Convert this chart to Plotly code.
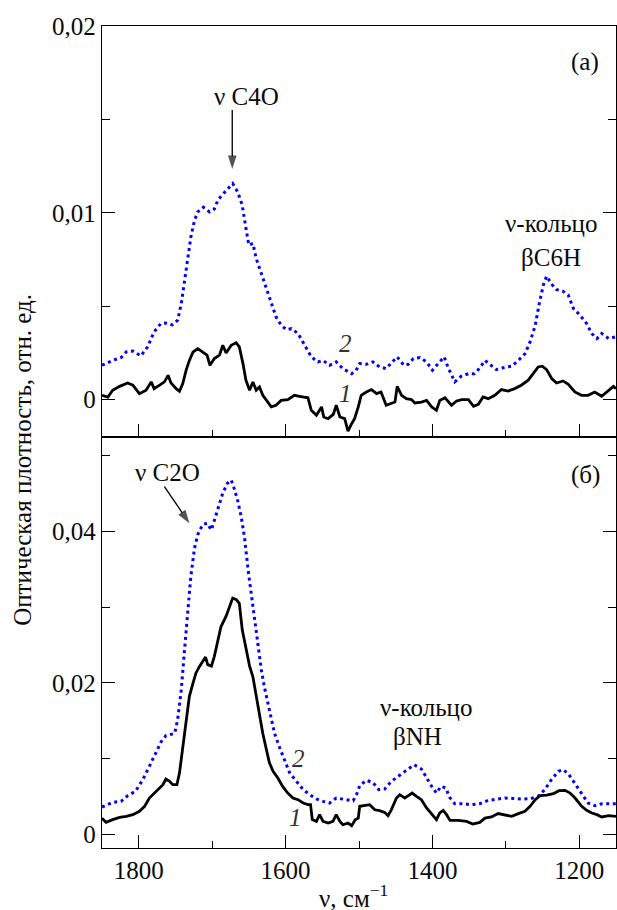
import numpy as np
import plotly.graph_objects as go
from plotly.subplots import make_subplots

# ---------------- data (optical density in units of 1e-3) ----------------
# Panel (a), curve 2 (blue dotted)
a2_nu = [1850, 1835.5, 1824, 1817, 1808, 1797, 1788, 1779, 1770, 1763, 1754.5, 1747, 1742, 1738,
         1733, 1729, 1724, 1719.5, 1712, 1703.6, 1697, 1692, 1683, 1676, 1672, 1665, 1659, 1654.5,
         1650, 1644.5, 1640, 1633, 1626, 1619.5, 1613, 1606, 1599, 1592, 1583, 1574, 1565, 1556,
         1549, 1540, 1531, 1522, 1510, 1504, 1499, 1490, 1481, 1472, 1463, 1456, 1448, 1439, 1433,
         1426, 1417, 1408, 1400, 1392, 1384, 1379, 1373, 1369.5, 1361, 1351, 1343, 1335, 1328.5,
         1322, 1313, 1303.5, 1292, 1283, 1274, 1267, 1260, 1254.5, 1249, 1244.5, 1237.6, 1231,
         1222, 1215, 1208, 1199, 1190, 1183, 1176, 1169.5, 1160, 1151]
a2_od = [1.84, 2.1, 2.25, 2.55, 2.6, 2.34, 2.82, 3.63, 4.07, 4.1, 4.0, 4.25, 5.14, 6.3,
         7.46, 8.7, 9.6, 10.05, 10.3, 10.05, 10.2, 10.7, 11.1, 11.4, 11.57, 11.1, 10.4, 9.3,
         8.27, 8.36, 7.55, 6.75, 5.95, 5.14, 4.43, 3.98, 3.75, 3.8, 3.54, 2.91, 2.29, 2.02,
         2.1, 1.84, 2.02, 1.66, 1.39, 1.57, 1.93, 1.89, 2.02, 1.75, 1.66, 1.96, 2.29, 1.84, 1.89,
         2.2, 2.25, 2.02, 1.57, 1.93, 2.29, 1.75, 1.21, 0.95, 1.25, 1.39, 1.39, 1.71, 2.1,
         1.89, 1.61, 1.71, 1.79, 2.1, 2.46, 3.09, 3.98, 5.14, 6.13, 6.61, 6.18, 5.89,
         5.8, 5.59, 4.88, 4.52, 4.07, 3.54, 3.27, 3.54, 3.27, 3.36]

# Panel (a), curve 1 (black solid)
a1_nu = [1850, 1842, 1835.5, 1826, 1815, 1808, 1799, 1790, 1783, 1779, 1770, 1765, 1760, 1756,
         1749, 1744.5, 1740, 1735.5, 1731, 1726, 1719.5, 1713, 1707, 1703, 1697, 1690, 1685.5,
         1681, 1674, 1667.3, 1663, 1658, 1654, 1649, 1644.5, 1640, 1635.5, 1631, 1626, 1619.5,
         1613, 1606, 1597, 1588, 1581, 1574, 1569.5, 1565, 1558, 1551, 1548, 1542, 1535, 1531,
         1526, 1519.5, 1515, 1510, 1506, 1501, 1497, 1490, 1483, 1476, 1470, 1463, 1456, 1451,
         1448, 1442, 1435.5, 1428.5, 1424, 1415, 1408, 1401, 1394.5, 1390, 1383, 1374, 1367,
         1360, 1351, 1344, 1337.5, 1331, 1324, 1315, 1306, 1297, 1288, 1279, 1269.5, 1263, 1256,
         1250.4, 1244.5, 1237.6, 1231, 1222, 1215, 1206, 1197, 1188, 1179, 1169.5, 1160, 1153.5, 1150]
a1_od = [0.23, 0.14, 0.5, 0.71, 0.89, 0.77, 0.32, 0.5, 0.95, 0.59, 0.82, 0.95, 1.3, 0.89,
         0.59, 0.45, 0.86, 1.57, 2.1, 2.55, 2.73, 2.55, 2.38, 1.84, 2.2, 2.38, 2.91,
         2.5, 2.91, 3.04, 2.82, 1.93, 1.04, 0.5, 0.95, 0.5, 0.68, 0.23, -0.04, -0.39,
         -0.3, -0.04, 0.0, 0.23, 0.18, 0.14, 0.1, -0.57, -0.84, -0.39, -0.93, -1.02, -0.79, -0.3,
         -0.93, -1.02, -1.68, -1.29, -1.02, -0.39, 0.23, 0.41, 0.54, 0.32, 0.41, -0.3, -0.21, -0.13,
         0.71, 0.23, 0.05, 0.0, -0.18, -0.13, -0.04, -0.39, -0.57, -0.04, 0.1, -0.3, -0.07,
         0.0, 0.0, -0.36, -0.25, 0.14, 0.05, 0.23, 0.54, 0.46, 0.59, 0.77, 1.04, 1.39, 1.75,
         1.79, 1.61, 1.13, 0.89, 1.0, 0.82, 0.41, 0.23, 0.23, 0.41, 0.18, 0.5, 0.71, 0.59]

# Panel (б), curve 2 (blue dotted)
b2_nu = [1850, 1835.5, 1824, 1815, 1804.5, 1794.5, 1785.5, 1776, 1769.5, 1763, 1751, 1747, 1742,
         1738, 1733, 1729, 1724, 1719.5, 1713, 1707, 1701, 1697, 1692, 1685.5, 1679, 1674, 1670,
         1665, 1660.5, 1656, 1651, 1647, 1642, 1638, 1633, 1629, 1624, 1619.5, 1615, 1608, 1601,
         1594.5, 1585.5, 1576, 1567, 1558, 1549, 1540, 1531, 1520, 1508, 1503, 1499, 1490, 1481,
         1473, 1465, 1456, 1447, 1435.5, 1425, 1415, 1408, 1401, 1394.5, 1388.5, 1382, 1376,
         1369.5, 1358, 1347, 1335.5, 1324, 1313, 1301, 1290, 1278.5, 1267, 1256, 1247, 1238,
         1228.5, 1222, 1215, 1208, 1201, 1194, 1188, 1178.5, 1169.5, 1160, 1150]
b2_od = [3.57, 4.19, 4.32, 5.07, 5.64, 7.18, 8.94, 10.9, 12.2, 13.0, 13.3, 15.1, 19.1,
         23.9, 29.2, 34.1, 37.8, 39.6, 40.9, 41.1, 40.2, 41.5, 43.3, 45.1, 46.4, 46.8, 45.7,
         44.0, 42.0, 39.3, 34.9, 31.9, 28.8, 25.2, 21.7, 19.5, 17.3, 15.1, 13.3, 11.4, 9.8,
         8.1, 7.0, 5.86, 5.2, 4.63, 4.32, 4.1, 4.76, 4.54, 4.4, 5.3, 6.4, 7.1, 6.8,
         5.86, 5.95, 6.96, 7.6, 8.3, 9.16, 8.6, 7.4, 6.3, 5.42, 6.3, 6.1, 4.76,
         4.0, 4.0, 3.88, 4.0, 4.45, 4.63, 4.76, 4.7, 4.63, 4.67, 4.98, 5.86, 7.18,
         8.3, 8.5, 7.97, 6.96, 5.86, 4.9, 4.1, 3.74, 4.0, 4.0, 4.0]

# Panel (б), curve 1 (black solid)
b1_nu = [1850, 1844.5, 1835.5, 1826, 1817, 1808, 1799, 1792, 1785.5, 1778.6, 1772, 1767, 1763,
         1758, 1753.6, 1748, 1744.5, 1740, 1735.5, 1731, 1726, 1722, 1717, 1713, 1709, 1706, 1701,
         1697, 1692, 1688, 1681, 1676, 1672, 1667, 1663, 1659, 1654.5, 1649, 1644.5, 1640, 1635.5,
         1631, 1626, 1622, 1617, 1610.5, 1604, 1597, 1590, 1583, 1576, 1569.5, 1566, 1563.6, 1558,
         1553.6, 1549, 1542, 1535.5, 1531, 1526, 1522, 1515, 1510, 1505, 1501, 1499, 1492, 1485.5,
         1478.5, 1472, 1465, 1460.5, 1456, 1449, 1444.5, 1437.6, 1430.8, 1427.6, 1421.7, 1415,
         1408, 1401, 1394.5, 1390, 1385.3, 1380.8, 1376, 1365, 1353.5, 1345, 1335.5, 1328.5,
         1319.5, 1310.5, 1301, 1292, 1283, 1274, 1267, 1260, 1253.5, 1244.5, 1235.3, 1227.6,
         1219.5, 1212.6, 1205.8, 1196.7, 1190, 1183, 1176, 1169.5, 1160, 1150]
b1_od = [2.1, 1.54, 1.9, 2.2, 2.33, 2.56, 3.0, 3.66, 4.76, 5.42, 5.95, 6.52, 7.27,
         6.96, 6.52, 6.52, 8.06, 11.6, 14.7, 18.2, 20.0, 21.3, 22.2, 22.8, 23.4, 22.4, 22.2,
         23.5, 25.9, 27.4, 28.8, 30.3, 31.2, 31.0, 30.5, 27.0, 24.8, 22.2, 20.8, 18.2, 15.6,
         13.3, 11.1, 9.4, 8.3, 7.4, 6.3, 5.42, 4.76, 4.54, 4.1, 3.88, 3.88, 1.9, 1.67,
         2.56, 1.67, 1.45, 1.67, 2.56, 1.67, 1.23, 1.45, 1.1, 1.9, 2.1, 3.66, 3.74, 3.88,
         3.2, 3.1, 2.86, 2.42, 3.2, 4.76, 5.2, 4.76, 5.2, 5.42, 4.98, 4.54,
         3.44, 2.56, 1.9, 2.78, 3.13, 2.56, 1.8, 1.8, 1.67, 1.32, 1.54, 2.1,
         2.25, 2.7, 2.56, 2.33, 2.7, 3.0, 3.66, 4.54, 5.07, 5.15, 5.33, 5.73,
         5.77, 5.42, 4.76, 3.66, 3.13, 2.78, 2.56, 2.25, 2.42, 2.33]

OD_UNIT = 1e-3  # values above are in units of 10^-3

x_tickvals = [1800, 1600, 1400, 1200]
x_ticktext = ["1800", "1600", "1400", "1200"]
x_minor = [1700, 1500, 1300]
ya_tickvals = [0, 0.01, 0.02]
ya_ticktext = ["0", "0,01", "0,02"]
ya_minor = [0.005, 0.015]
yb_tickvals = [0, 0.02, 0.04]
yb_ticktext = ["0", "0,02", "0,04"]
yb_minor = [0.01, 0.03, 0.05]

# ---------------- figure ----------------
FONT = "Liberation Serif, Times New Roman, Times, DejaVu Serif, serif"
FS = 25
BLUE = "#0000ff"
INK = "#0a0a0a"

fig = make_subplots(rows=2, cols=1, shared_xaxes=True, vertical_spacing=0)

for row, (n2, v2, n1, v1) in enumerate([(a2_nu, a2_od, a1_nu, a1_od),
                                        (b2_nu, b2_od, b1_nu, b1_od)], start=1):
    fig.add_trace(go.Scatter(x=n2, y=np.array(v2) * OD_UNIT, mode="lines",
                             line=dict(color=BLUE, width=3, dash="3px,3.6px"),
                             showlegend=False, hoverinfo="skip"), row=row, col=1)
    fig.add_trace(go.Scatter(x=n1, y=np.array(v1) * OD_UNIT, mode="lines",
                             line=dict(color="black", width=2.8),
                             showlegend=False, hoverinfo="skip"), row=row, col=1)

# annotation arrows (tail -> head), drawn as a line with an arrow marker at the head
arrows = [  # (row, x_tail, y_tail, x_head, y_head)
    (1, 1672.6, 0.0155, 1672.6, 0.01235),
    (2, 1765.0, 0.04594, 1731.0, 0.04110),
]
for row, xt, yt, xh, yh in arrows:
    fig.add_trace(go.Scatter(x=[xt, xh], y=[yt, yh], mode="lines+markers",
                             line=dict(color=INK, width=1.4),
                             marker=dict(symbol=["circle", "arrow"], size=[0, 14],
                                         angleref="previous", color=INK,
                                         line=dict(width=0)),
                             showlegend=False, hoverinfo="skip"), row=row, col=1)

axis_common = dict(showgrid=False, zeroline=False, showline=True, linecolor="black",
                   linewidth=1.3, ticks="inside", ticklen=13, tickwidth=1.3, tickcolor="black",
                   tickfont=dict(family=FONT, size=FS, color=INK))

for row in (1, 2):
    fig.update_xaxes(range=[1850, 1150], tickmode="array", tickvals=x_tickvals,
                     ticktext=x_ticktext, mirror=True,
                     minor=dict(tickmode="array", tickvals=x_minor, ticks="inside",
                                ticklen=7, tickwidth=1.3, tickcolor="black"),
                     showticklabels=(row == 2), **axis_common, row=row, col=1)

fig.update_yaxes(range=[-0.002, 0.02], tickmode="array", tickvals=ya_tickvals,
                 ticktext=ya_ticktext, mirror="ticks",
                 minor=dict(tickmode="array", tickvals=ya_minor, ticks="inside",
                            ticklen=8, tickwidth=1.3, tickcolor="black"),
                 **axis_common, row=1, col=1)
fig.update_yaxes(range=[-0.00185, 0.0525], tickmode="array", tickvals=yb_tickvals,
                 ticktext=yb_ticktext, mirror="ticks",
                 minor=dict(tickmode="array", tickvals=yb_minor, ticks="inside",
                            ticklen=8, tickwidth=1.3, tickcolor="black"),
                 **axis_common, row=2, col=1)

txt = dict(family=FONT, size=FS, color=INK)
itl = dict(family=FONT, size=FS, color="#333333", style="italic")

ann = [
    # panel (a)
    dict(x=1192, y=0.01808, xref="x", yref="y", text="(a)", showarrow=False, font=txt),
    dict(x=1653, y=0.01622, xref="x", yref="y", text="ν C4O", showarrow=False, font=txt),
    dict(x=1239, y=0.00945, xref="x", yref="y", text="ν-кольцо", showarrow=False, font=txt),
    dict(x=1239, y=0.00763, xref="x", yref="y", text="βC6H", showarrow=False, font=txt),
    dict(x=1518, y=0.00302, xref="x", yref="y", text="2", showarrow=False, font=itl),
    dict(x=1518, y=0.00034, xref="x", yref="y", text="1", showarrow=False, font=itl),
    # panel (б)
    dict(x=1192, y=0.04753, xref="x2", yref="y2", text="(б)", showarrow=False, font=txt),
    dict(x=1761, y=0.0478, xref="x2", yref="y2", text="ν C2O", showarrow=False, font=txt),
    dict(x=1409, y=0.01671, xref="x2", yref="y2", text="ν-кольцо", showarrow=False, font=txt),
    dict(x=1421, y=0.01288, xref="x2", yref="y2", text="βNH", showarrow=False, font=txt),
    dict(x=1582.6, y=0.01005, xref="x2", yref="y2", text="2", showarrow=False, font=itl),
    dict(x=1586.3, y=0.00212, xref="x2", yref="y2", text="1", showarrow=False, font=itl),
    # axis titles
    dict(x=-0.156, y=0.472, xref="paper", yref="paper", text="Оптическая плотность, отн. ед.",
         textangle=-90, showarrow=False, xanchor="center", yanchor="middle", font=txt),
    dict(x=0.49, y=-0.059, xref="paper", yref="paper", text="ν, см<sup>−1</sup>",
         showarrow=False, xanchor="center", yanchor="middle", font=txt),
]

fig.update_layout(width=617, height=910, margin=dict(l=102, r=1, t=26, b=62),
                  paper_bgcolor="white", plot_bgcolor="white", annotations=ann,
                  font=dict(family=FONT, size=FS, color=INK))

fig.write_html("out.html", config={"displayModeBar": False},
               post_script="document.body.style.margin='0px';")
